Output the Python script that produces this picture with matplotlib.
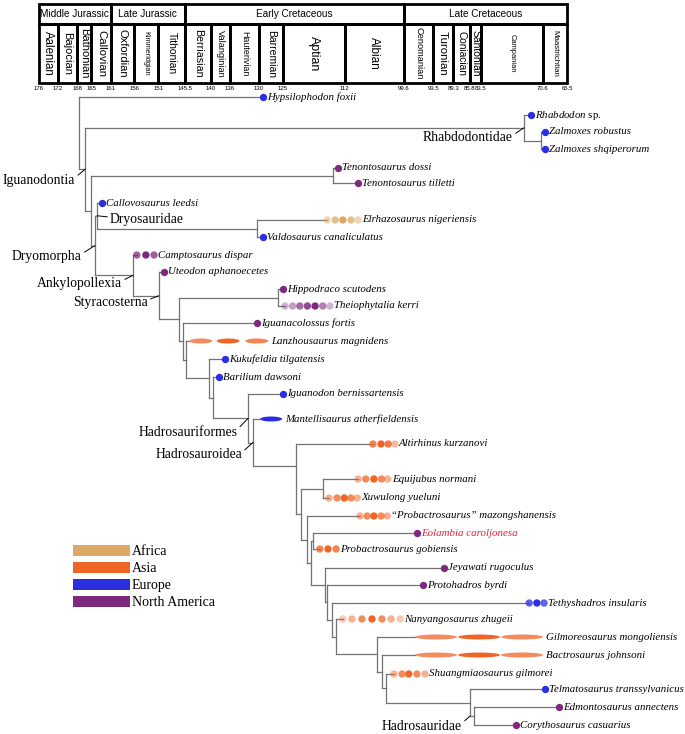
import matplotlib
matplotlib.use('Agg')
import matplotlib.pyplot as plt
from matplotlib.patches import Rectangle, Ellipse, Patch
from matplotlib.colors import to_rgba

plt.rcParams['mathtext.fontset'] = 'custom'
plt.rcParams['mathtext.rm'] = 'Liberation Serif'
plt.rcParams['mathtext.it'] = 'Liberation Serif:italic'

SANS = ['Liberation Sans', 'DejaVu Sans']
SERIF = ['Liberation Serif', 'DejaVu Serif']

# ---------------- geologic time scale (Ma) ----------------
epochs = ['Middle Jurassic', 'Late Jurassic', 'Early Cretaceous', 'Late Cretaceous']
epoch_bounds = [176, 161, 145.5, 99.6, 65.5]
stages = ['Aalenian', 'Bajocian', 'Bathonian', 'Callovian', 'Oxfordian', 'Kimmeridgian',
          'Tithonian', 'Berriasian', 'Valanginian', 'Hauterivian', 'Barremian', 'Aptian',
          'Albian', 'Cenomanian', 'Turonian', 'Coniacian', 'Santonian', 'Campanian',
          'Maastrichtian']
stage_bounds = [176, 172, 168, 165, 161, 156, 151, 145.5, 140, 136, 130, 125, 112,
                99.6, 93.5, 89.3, 85.8, 83.5, 70.6, 65.5]
stage_fs = [8.3, 8, 8, 8.2, 8, 5.3, 7.5, 7.7, 6.6, 6.4, 7.5, 8.9, 8.5,
            6.7, 8.2, 7.3, 7.5, 5.4, 5.7]

# ---------------- taxa ----------------
tip_names = ['Hypsilophodon foxii', 'Rhabdodon sp.', 'Zalmoxes robustus',
             'Zalmoxes shqiperorum', 'Tenontosaurus dossi', 'Tenontosaurus tilletti',
             'Callovosaurus leedsi', 'Elrhazosaurus nigeriensis', 'Valdosaurus canaliculatus',
             'Camptosaurus dispar', 'Uteodon aphanoecetes', 'Hippodraco scutodens',
             'Theiophytalia kerri', 'Iguanacolossus fortis', 'Lanzhousaurus magnidens',
             'Kukufeldia tilgatensis', 'Barilium dawsoni', 'Iguanodon bernissartensis',
             'Mantellisaurus atherfieldensis', 'Altirhinus kurzanovi', 'Equijubus normani',
             'Xuwulong yueluni', '\u201cProbactrosaurus\u201d mazongshanensis',
             'Eolambia caroljonesa', 'Probactrosaurus gobiensis', 'Jeyawati rugoculus',
             'Protohadros byrdi', 'Tethyshadros insularis', 'Nanyangosaurus zhugeii',
             'Gilmoreosaurus mongoliensis', 'Bactrosaurus johnsoni',
             'Shuangmiaosaurus gilmorei', 'Telmatosaurus transsylvanicus',
             'Edmontosaurus annectens', 'Corythosaurus casuarius']
tip_rows = [97, 115, 132, 149, 168, 183, 203, 220, 237, 255, 272, 289, 306, 323, 341,
            359, 377, 394, 419, 444, 479, 498, 516, 533, 549, 568, 585, 603, 619, 637,
            655, 674, 689, 707, 725]
tip_region = ['Europe', 'Europe', 'Europe', 'Europe', 'North America', 'North America',
              'Europe', 'Africa', 'Europe', 'North America', 'North America',
              'North America', 'North America', 'North America', 'Asia', 'Europe',
              'Europe', 'Europe', 'Europe', 'Asia', 'Asia', 'Asia', 'Asia',
              'North America', 'Asia', 'North America', 'North America', 'Europe', 'Asia',
              'Asia', 'Asia', 'Asia', 'Europe', 'North America', 'North America']
# age at which each terminal branch ends
branch_end = [129.1, 73.0, 70.0, 70.0, 113.4, 109.2, 162.8, 115.7, 129.1, 155.5, 149.8,
              124.9, 124.5, 130.4, 144.5, 137.1, 138.3, 124.9, 129.7, 106.1, 109.2,
              115.3, 108.8, 96.9, 117.2, 91.2, 95.6, 73.4, 112.4, 97.3, 97.3, 101.7,
              70.1, 67.2, 76.2]
# age of each dot / ellipse along the stratigraphic range, and its intensity
mark_ages = [[129.1], [73.0], [70.0], [70.0], [113.4], [109.2], [162.8],
             [115.7, 114.0, 112.4, 110.7, 109.2], [129.1], [155.5, 153.6, 151.9],
             [149.8], [124.9], [124.5, 122.9, 121.4, 119.8, 118.2, 116.6, 115.1],
             [130.4], [142.1, 136.4, 130.4], [137.1], [138.3], [124.9], [127.4],
             [106.1, 104.4, 102.9, 101.5], [109.2, 107.6, 105.9, 104.3, 103.0],
             [115.3, 113.6, 112.1, 110.7, 109.4], [108.8, 107.3, 105.9, 104.4, 103.1],
             [96.9], [117.2, 115.5, 113.8], [91.2], [95.6], [73.4, 71.8, 70.3],
             [112.4, 110.5, 108.4, 106.3, 104.2, 102.3, 100.4], [92.9, 83.9, 74.9],
             [92.9, 83.9, 74.9], [101.7, 100.0, 98.6, 96.9, 95.2], [70.1], [67.2], [76.2]]
mark_alpha = [[1], [1], [1], [1], [1], [1], [1], [0.5, 0.75, 1.0, 0.75, 0.5], [1],
              [0.75, 1.0, 0.75], [1], [1], [0.35, 0.45, 0.7, 0.85, 1.0, 0.6, 0.35], [1],
              [0.75, 1.0, 0.8], [1], [1], [1], [1], [0.8, 1.0, 0.85, 0.45],
              [0.5, 0.75, 1.0, 0.75, 0.5], [0.5, 0.75, 1.0, 0.75, 0.5],
              [0.5, 0.75, 1.0, 0.75, 0.5], [1], [0.8, 1.0, 0.8], [1], [1],
              [0.75, 1.0, 0.75], [0.35, 0.5, 0.75, 1.0, 0.75, 0.5, 0.35],
              [0.75, 1.0, 0.75], [0.75, 1.0, 0.75], [0.5, 0.75, 1.0, 0.75, 0.5], [1],
              [1], [1]]
# ellipse length (Myr) for taxa drawn as elongated ranges
ellipse_len = {'Lanzhousaurus magnidens': 4.8, 'Mantellisaurus atherfieldensis': 4.6,
               'Gilmoreosaurus mongoliensis': 8.8, 'Bactrosaurus johnsoni': 8.8}

# internal nodes: name -> (age, children)
nodes = {
    'root': (167.6, ['Hypsilophodon foxii', 'Iguanodontia']),
    'Iguanodontia': (166.3, ['Rhabdodontidae', 'n1']),
    'Rhabdodontidae': (74.5, ['Rhabdodon sp.', 'nZal']),
    'nZal': (70.9, ['Zalmoxes robustus', 'Zalmoxes shqiperorum']),
    'n1': (165.1, ['nTen', 'Dryomorpha']),
    'nTen': (114.5, ['Tenontosaurus dossi', 'Tenontosaurus tilletti']),
    'Dryomorpha': (164.3, ['Dryosauridae', 'Ankylopollexia']),
    'Dryosauridae': (163.8, ['Callovosaurus leedsi', 'nDry']),
    'nDry': (130.4, ['Elrhazosaurus nigeriensis', 'Valdosaurus canaliculatus']),
    'Ankylopollexia': (156.3, ['Camptosaurus dispar', 'Styracosterna']),
    'Styracosterna': (150.9, ['Uteodon aphanoecetes', 'n2']),
    'n2': (146.7, ['n3', 'n4']),
    'n3': (126.0, ['Hippodraco scutodens', 'Theiophytalia kerri']),
    'n4': (145.8, ['Iguanacolossus fortis', 'n5']),
    'n5': (145.2, ['Lanzhousaurus magnidens', 'n6']),
    'n6': (140.4, ['Kukufeldia tilgatensis', 'n7']),
    'n7': (139.6, ['Barilium dawsoni', 'Hadrosauriformes']),
    'Hadrosauriformes': (132.2, ['Iguanodon bernissartensis', 'Hadrosauroidea']),
    'Hadrosauroidea': (131.2, ['Mantellisaurus atherfieldensis', 'n8']),
    'n8': (122.2, ['Altirhinus kurzanovi', 'n9']),
    'n9': (121.2, ['n10', 'n11']),
    'n10': (116.6, ['Equijubus normani', 'Xuwulong yueluni']),
    'n11': (119.9, ['\u201cProbactrosaurus\u201d mazongshanensis', 'n12']),
    'n12': (119.1, ['n13', 'n14']),
    'n13': (118.6, ['Eolambia caroljonesa', 'Probactrosaurus gobiensis']),
    'n14': (116.1, ['Jeyawati rugoculus', 'n15']),
    'n15': (115.7, ['Protohadros byrdi', 'n16']),
    'n16': (114.7, ['Tethyshadros insularis', 'n17']),
    'n17': (113.8, ['Nanyangosaurus zhugeii', 'n18']),
    'n18': (105.3, ['Gilmoreosaurus mongoliensis', 'n19']),
    'n19': (104.2, ['Bactrosaurus johnsoni', 'n20']),
    'n20': (103.4, ['Shuangmiaosaurus gilmorei', 'Hadrosauridae']),
    'Hadrosauridae': (85.8, ['Telmatosaurus transsylvanicus', 'n21']),
    'n21': (85.0, ['Edmontosaurus annectens', 'Corythosaurus casuarius']),
}
join_row = {'n8': 466}

region_colors = {'Africa': '#DEA869', 'Asia': '#EF6427', 'Europe': '#2B2FE0',
                 'North America': '#7D2A7E'}
LINE = '#737373'

fig = plt.figure(figsize=(6.85, 7.34), dpi=100)
ax = fig.add_axes([0, 0, 1, 1])
ax.set_xlim(184.12, 40.81)
ax.set_ylim(734, 0)
ax.axis('off')

# ---------------- time scale box ----------------
for i, name in enumerate(epochs):
    a, b = epoch_bounds[i], epoch_bounds[i + 1]
    ax.add_patch(Rectangle((b, 4), a - b, 20, fill=False, ec='k', lw=2.0))
    ax.text((a + b) / 2, 14, name, ha='center', va='center', family=SANS, fontsize=7.2)
for i, name in enumerate(stages):
    a, b = stage_bounds[i], stage_bounds[i + 1]
    ax.add_patch(Rectangle((b, 24), a - b, 59, fill=False, ec='k', lw=2.0))
    ax.text((a + b) / 2, 53.5, name, ha='center', va='center', rotation=270,
            family=SANS, fontsize=stage_fs[i])
for b in stage_bounds:
    ax.text(b, 88, f'{b:g}', ha='center', va='center', family=SANS, fontsize=4.3)

# ---------------- tree ----------------
tip_index = {n: i for i, n in enumerate(tip_names)}
node_pos = {}


def place(name):
    if name in tip_index:
        i = tip_index[name]
        return branch_end[i], tip_rows[i]
    age, kids = nodes[name]
    pts = [place(k) for k in kids]
    ys = [p[1] for p in pts]
    ax.plot([age, age], [min(ys), max(ys)], color=LINE, lw=0.9, zorder=1)
    for kx, ky in pts:
        ax.plot([age, kx], [ky, ky], color=LINE, lw=0.9, zorder=1)
    y = join_row.get(name, (min(ys) + max(ys)) / 2)
    node_pos[name] = (age, y)
    return age, y


place('root')

for i, name in enumerate(tip_names):
    col = region_colors[tip_region[i]]
    ages = mark_ages[i]
    cols = [to_rgba(col, a) for a in mark_alpha[i]]
    if name in ellipse_len:
        w = ellipse_len[name]
        for x, c in zip(ages, cols):
            ax.add_patch(Ellipse((x, tip_rows[i]), w, 5, fc=c, ec='none', zorder=3))
        lx, off = ages[-1] - w / 2, 3
    else:
        ax.scatter(ages, [tip_rows[i]] * len(ages), s=28, c=cols, lw=0, zorder=3)
        lx, off = ages[-1], 4
    if name == 'Rhabdodon sp.':
        label, style = r'$\mathit{Rhabdodon}$ sp.', 'normal'
    else:
        label, style = name, 'italic'
    tcol = '#E5203A' if name.startswith('Eolambia') else 'black'
    ax.annotate(label, (lx, tip_rows[i]), xytext=(off, 0), textcoords='offset pixels',
                ha='left', va='center', family=SERIF, style=style, fontsize=7.8,
                color=tcol)

# ---------------- clade names ----------------
# (node for x, node for y, label, dx, dy, alignment)
clade_labels = [('Iguanodontia', 'Iguanodontia', 'Iguanodontia', -10, -11, 'right'),
                ('Rhabdodontidae', 'Rhabdodontidae', 'Rhabdodontidae', -11, -10, 'right'),
                ('Dryosauridae', 'Dryosauridae', 'Dryosauridae', 13, -4, 'left'),
                ('Dryomorpha', 'Dryomorpha', 'Dryomorpha', -13, -11, 'right'),
                ('Ankylopollexia', 'Ankylopollexia', 'Ankylopollexia', -11, -8, 'right'),
                ('Styracosterna', 'Styracosterna', 'Styracosterna', -11, -7, 'right'),
                ('Hadrosauriformes', 'Hadrosauriformes', 'Hadrosauriformes', -11, -14,
                 'right'),
                ('Hadrosauroidea', 'Hadrosauroidea', 'Hadrosauroidea', -11, -12.5, 'right'),
                ('Hadrosauridae', 'n21', 'Hadrosauridae', -8, -10, 'right')]
for kx, ky, label, dx, dy, ha in clade_labels:
    rel = (1, 0.7) if ha == 'right' else (0, 0.7)
    ax.annotate(label, (node_pos[kx][0], node_pos[ky][1]), xytext=(dx, dy),
                textcoords='offset pixels', ha=ha, va='center', family=SERIF,
                fontsize=9.8,
                arrowprops=dict(arrowstyle='-', color='k', lw=0.7, shrinkA=0,
                                shrinkB=0, relpos=rel))

# ---------------- legend ----------------
handles = [Patch(fc=region_colors[r], ec='none', label=r)
           for r in ['Africa', 'Asia', 'Europe', 'North America']]
ax.legend(handles=handles, loc='upper left', bbox_to_anchor=(73 / 685, 1 - 545 / 734),
          frameon=False, prop={'family': SERIF, 'size': 10}, handlelength=4.1,
          handleheight=0.84, handletextpad=0.15, labelspacing=0.27, borderpad=0,
          borderaxespad=0)

fig.savefig('out.png', dpi=100)
